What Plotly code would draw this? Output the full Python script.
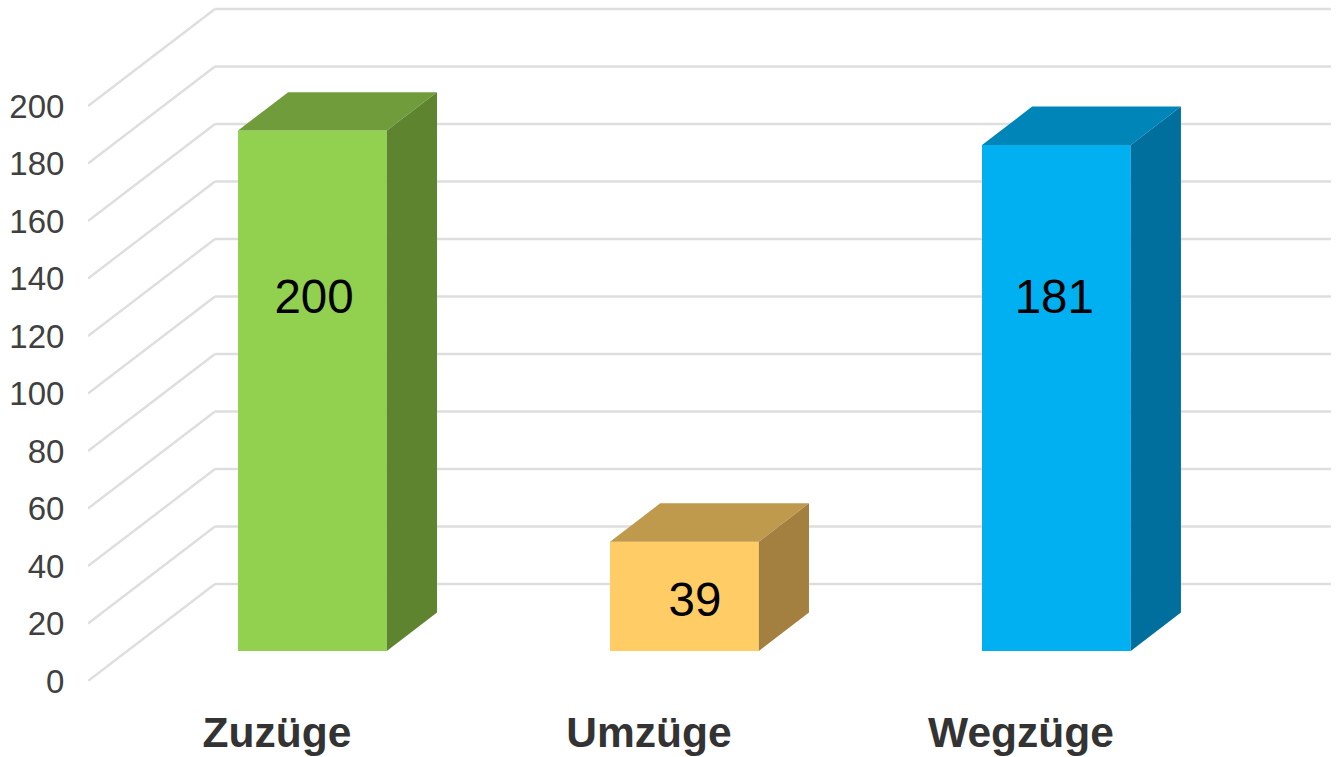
import plotly.graph_objects as go

# Data
categories = ["Zuzüge", "Umzüge", "Wegzüge"]
bar_heights = [181, 38, 176]          # height of each block, read on the value axis
bar_labels = ["200", "39", "181"]     # printed labels
label_levels = [132, 26.6, 132]       # front-plane value at which each label sits
label_shift = [-0.006, 0.018, -0.016]
axis_ticks = [0, 20, 40, 60, 80, 100, 120, 140, 160, 180, 200]
front_colors = ["#92D050", "#FFCC66", "#00B0F0"]
top_colors = ["#719C3C", "#BF9A4D", "#0085B8"]
side_colors = ["#5F8430", "#A3803F", "#006F9E"]

# Oblique projection, in axis units
PX_X, PX_Y = 372.0, 2.875
DX, DY = 127 / PX_X, 97 / PX_Y        # shift for going all the way to the back wall
D0, D1 = 0.31, 0.705                  # depth of the block's front and back faces
HALF = 0.2
SHIFT = -0.0105
W0, W1 = -0.508, 2.492                # extent of the floor along the category axis
GRID = "#DEDEDE"


def proj(c, v, d):
    return c + d * DX, v + d * DY


fig = go.Figure()

# Walls: drawn below all traces
shapes = []
for t in axis_ticks:
    x0, y0 = proj(W0, t, 0)
    x1, y1 = proj(W0, t, 1)
    x2, y2 = proj(W1, t, 1)
    line = dict(color=GRID, width=2.4)
    shapes.append(dict(type="line", xref="x", yref="y", x0=x0, y0=y0, x1=x1, y1=y1,
                       line=line, layer="below"))
    shapes.append(dict(type="line", xref="x", yref="y", x0=x1, y0=y1, x1=x2, y1=y2,
                       line=line, layer="below"))

xpos = list(range(len(categories)))

# Front faces
for i, cat in enumerate(categories):
    fx, fy = proj(xpos[i] + SHIFT, 0, D0)
    fig.add_trace(go.Bar(x=[fx], y=[bar_heights[i]], base=[fy], width=[2 * HALF],
                         marker=dict(color=front_colors[i], line=dict(width=0)),
                         name=cat, showlegend=False, hoverinfo="skip"))

# Top and side faces
for i in range(len(categories)):
    c = xpos[i] + SHIFT
    h = bar_heights[i]
    pts_top = [proj(c - HALF, h, D0), proj(c + HALF, h, D0),
               proj(c + HALF, h, D1), proj(c - HALF, h, D1), proj(c - HALF, h, D0)]
    pts_side = [proj(c + HALF, 0, D0), proj(c + HALF, 0, D1),
                proj(c + HALF, h, D1), proj(c + HALF, h, D0), proj(c + HALF, 0, D0)]
    for pts, col in ((pts_top, top_colors[i]), (pts_side, side_colors[i])):
        fig.add_trace(go.Scatter(x=[p[0] for p in pts], y=[p[1] for p in pts],
                                 mode="lines", fill="toself", fillcolor=col,
                                 line=dict(width=0, color=col),
                                 showlegend=False, hoverinfo="skip"))

# Labels
label_x = [proj(p, 0, D0)[0] + s for p, s in zip(xpos, label_shift)]
fig.add_trace(go.Scatter(x=label_x, y=label_levels, mode="text", text=bar_labels,
                         textposition="middle center",
                         textfont=dict(family="Liberation Sans", size=47.5, color="#000000"),
                         showlegend=False, hoverinfo="skip"))

fig.update_layout(
    width=1336, height=757, autosize=False,
    margin=dict(l=88, r=0, t=0, b=76, pad=0, autoexpand=False),
    paper_bgcolor="white", plot_bgcolor="white",
    barmode="overlay", shapes=shapes,
    xaxis=dict(range=[-0.508, 2.847], tickmode="array", tickvals=xpos,
               ticktext=[f"<b>{c}</b>" for c in categories],
               tickfont=dict(family="Liberation Sans", size=42.5, color="#333333"),
               showgrid=False, zeroline=False, showline=False, automargin=False,
               ticks="outside", ticklen=14, tickcolor="rgba(0,0,0,0)"),
    yaxis=dict(range=[0, 681 / PX_Y], tickmode="array", tickvals=axis_ticks,
               ticktext=[str(t) for t in axis_ticks],
               tickfont=dict(family="Liberation Sans", size=33, color="#404040"),
               showgrid=False, zeroline=False, showline=False, automargin=False,
               ticks="outside", ticklen=16, tickcolor="rgba(0,0,0,0)"),
)

fig.write_html("out.html", config=dict(displayModeBar=False),
               post_script="document.body.style.margin='0';document.documentElement.style.overflow='hidden';")
